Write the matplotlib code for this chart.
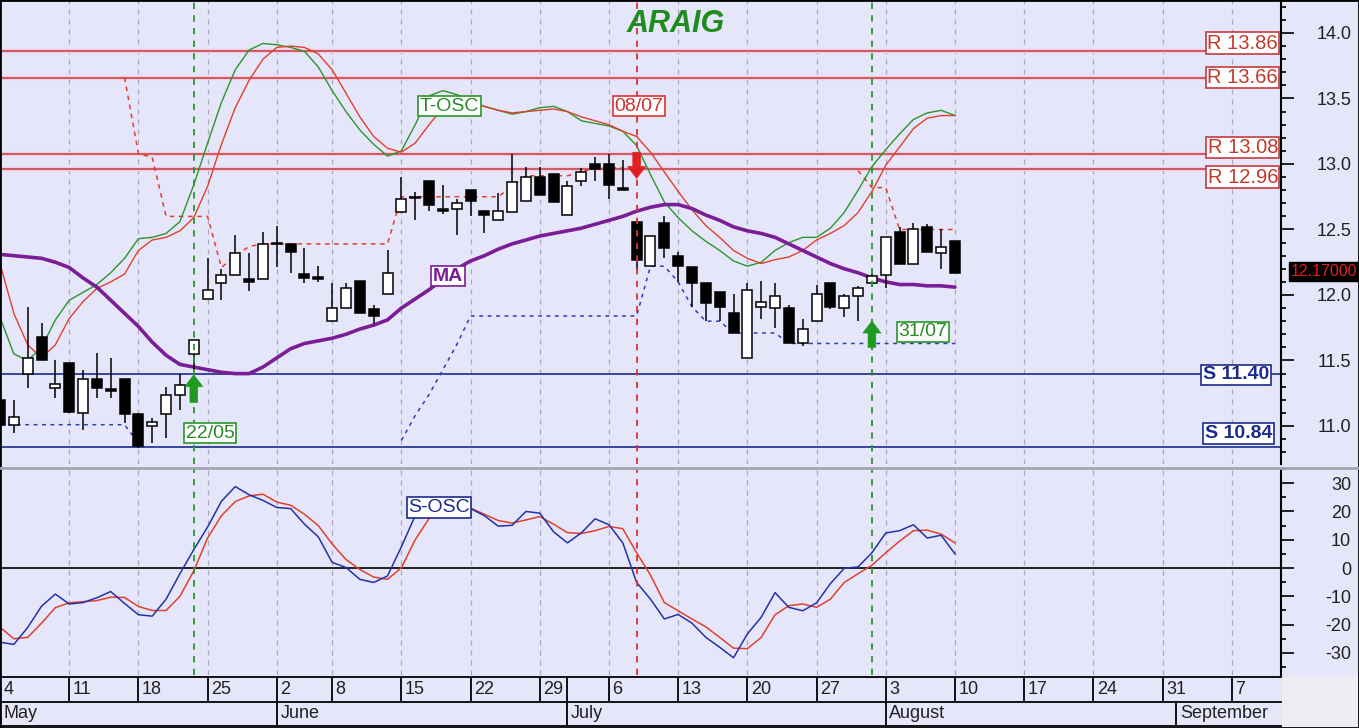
import matplotlib
matplotlib.use('Agg')
import matplotlib.pyplot as plt
import numpy as np
from matplotlib.patches import Rectangle, FancyArrowPatch, ArrowStyle
from matplotlib.ticker import MultipleLocator, FuncFormatter
from matplotlib.lines import Line2D

plt.rcParams['font.family'] = ['Liberation Sans', 'DejaVu Sans']

# ---------------- data (trading-day index 0 = 4 May) ----------------
opens = [11.20, 11.01, 11.40, 11.68, 11.29, 11.48, 11.10, 11.36, 11.28, 11.36,
         11.09, 11.00, 11.09, 11.24, 11.55, 11.97, 12.09, 12.15, 12.12, 12.12,
         12.40, 12.39, 12.16, 12.135, 11.80, 11.90, 12.11, 11.89, 12.01, 12.63,
         12.75, 12.87, 12.66, 12.66, 12.80, 12.64, 12.57, 12.63, 12.72, 12.90,
         12.92, 12.61, 12.87, 13.00, 13.00, 12.82, 12.56, 12.22, 12.55, 12.30,
         12.21, 12.09, 12.02, 11.86, 11.52, 11.91, 11.90, 11.90, 11.63, 11.80,
         12.09, 11.90, 11.99, 12.095, 12.15, 12.48, 12.24, 12.52, 12.32, 12.41]
highs = [11.22, 11.20, 11.91, 11.79, 11.50, 11.48, 11.43, 11.56, 11.52, 11.36,
         11.10, 11.06, 11.30, 11.40, 11.66, 12.28, 12.20, 12.46, 12.32, 12.48,
         12.53, 12.39, 12.36, 12.22, 12.09, 12.09, 12.11, 11.92, 12.34, 12.90,
         12.79, 12.87, 12.84, 12.73, 12.80, 12.64, 12.78, 13.08, 12.98, 12.98,
         12.92, 12.87, 12.97, 13.05, 13.08, 13.03, 12.58, 12.45, 12.60, 12.33,
         12.21, 12.09, 12.02, 12.01, 12.09, 12.11, 12.09, 11.92, 11.82, 12.08,
         12.09, 12.01, 12.07, 12.17, 12.44, 12.52, 12.55, 12.54, 12.50, 12.41]
lows = [10.99, 10.95, 11.29, 11.50, 11.21, 11.10, 10.97, 11.21, 11.21, 11.02,
        10.83, 10.87, 10.91, 11.12, 11.43, 11.97, 11.96, 12.15, 12.03, 12.12,
        12.21, 12.17, 12.09, 12.10, 11.80, 11.90, 11.86, 11.78, 12.01, 12.63,
        12.57, 12.64, 12.62, 12.46, 12.60, 12.47, 12.57, 12.63, 12.72, 12.76,
        12.71, 12.61, 12.83, 12.87, 12.73, 12.80, 12.19, 12.22, 12.28, 12.10,
        11.91, 11.80, 11.80, 11.71, 11.52, 11.82, 11.75, 11.63, 11.61, 11.80,
        11.89, 11.83, 11.80, 12.06, 12.05, 12.24, 12.24, 12.33, 12.20, 12.17]
closes = [11.01, 11.07, 11.52, 11.50, 11.32, 11.11, 11.36, 11.29, 11.27, 11.09,
          10.85, 11.03, 11.24, 11.31, 11.66, 12.04, 12.15, 12.32, 12.10, 12.39,
          12.39, 12.33, 12.13, 12.12, 11.90, 12.05, 11.86, 11.84, 12.17, 12.73,
          12.74, 12.69, 12.64, 12.70, 12.72, 12.61, 12.64, 12.86, 12.90, 12.76,
          12.71, 12.83, 12.94, 12.96, 12.84, 12.80, 12.27, 12.45, 12.36, 12.22,
          12.09, 11.94, 11.91, 11.71, 12.04, 11.95, 11.99, 11.63, 11.74, 12.01,
          11.91, 11.99, 12.05, 12.145, 12.44, 12.24, 12.50, 12.33, 12.37, 12.17]

ma = [12.31, 12.30, 12.29, 12.28, 12.25, 12.21, 12.13, 12.06, 11.96, 11.86,
      11.76, 11.64, 11.54, 11.47, 11.45, 11.43, 11.41, 11.40, 11.40, 11.45,
      11.52, 11.59, 11.63, 11.65, 11.67, 11.70, 11.74, 11.77, 11.81, 11.90,
      11.97, 12.04, 12.12, 12.20, 12.26, 12.30, 12.35, 12.39, 12.42, 12.45,
      12.47, 12.49, 12.51, 12.54, 12.57, 12.60, 12.64, 12.67, 12.69, 12.69,
      12.66, 12.61, 12.57, 12.52, 12.49, 12.47, 12.44, 12.39, 12.34, 12.29,
      12.24, 12.20, 12.17, 12.13, 12.10, 12.08, 12.08, 12.07, 12.07, 12.06]

tosc_fast = [11.83, 11.55, 11.50, 11.60, 11.81, 11.96, 12.02, 12.08, 12.17, 12.28,
             12.43, 12.44, 12.47, 12.56, 12.84, 13.16, 13.47, 13.72, 13.87, 13.92,
             13.91, 13.89, 13.86, 13.74, 13.56, 13.40, 13.26, 13.15, 13.06, 13.10,
             13.30, 13.52, 13.56, 13.53, 13.48, 13.44, 13.41, 13.38, 13.40, 13.43,
             13.44, 13.40, 13.33, 13.31, 13.29, 13.25, 13.14, 12.92, 12.71, 12.59,
             12.49, 12.41, 12.34, 12.26, 12.22, 12.25, 12.34, 12.40, 12.44, 12.44,
             12.51, 12.63, 12.80, 12.98, 13.11, 13.23, 13.34, 13.39, 13.41, 13.37]
tosc_slow = [12.24, 11.86, 11.62, 11.52, 11.62, 11.82, 11.95, 12.05, 12.10, 12.16,
             12.34, 12.42, 12.44, 12.49, 12.59, 12.83, 13.15, 13.43, 13.64, 13.80,
             13.89, 13.90, 13.89, 13.84, 13.72, 13.54, 13.36, 13.21, 13.12, 13.09,
             13.16, 13.30, 13.43, 13.49, 13.47, 13.44, 13.41, 13.39, 13.40, 13.41,
             13.42, 13.40, 13.36, 13.33, 13.30, 13.25, 13.21, 13.09, 12.94, 12.79,
             12.65, 12.53, 12.44, 12.34, 12.28, 12.24, 12.27, 12.29, 12.34, 12.42,
             12.47, 12.53, 12.63, 12.79, 12.99, 13.13, 13.27, 13.35, 13.37, 13.37]

nan = np.nan
stop_high = [nan] * 9 + [13.66, 13.08, 13.05, 12.60, 12.60, 12.60, 12.60, 12.21, 12.30, 12.37] \
    + [12.39] * 10 + [12.75] * 8 + [12.83, 12.91, 12.91, 12.91, 12.91, 12.94, 12.97, 12.97, 12.97] \
    + [nan] * 16 + [12.95, 12.82, 12.82, 12.50, 12.50, 12.50, 12.50, 12.50]
stop_low = [11.01] * 10 + [10.87] + [nan] * 18 + [10.89, 11.08, 11.24, 11.43, 11.62] \
    + [11.84] * 13 + [12.22, 12.22, 12.10, 11.91, 11.80, 11.80, 11.71, 11.71, 11.71, 11.71] \
    + [11.63] * 13

sosc_fast = [-26.2, -27.0, -21.0, -13.5, -9.2, -12.7, -12.2, -10.5, -8.3, -12.5,
             -16.5, -17.0, -11.0, -2.0, 6.5, 14.5, 23.6, 28.8, 25.9, 23.9,
             21.4, 21.0, 15.5, 11.0, 2.0, 0.2, -4.0, -5.1, -2.8, 7.5,
             18.5, 21.0, 21.5, 21.5, 21.0, 18.5, 14.8, 15.1, 20.0, 19.4,
             12.8, 8.9, 12.4, 17.4, 15.3, 8.9, -5.1, -11.0, -18.0, -16.4,
             -19.5, -24.5, -28.0, -31.7, -23.3, -17.4, -8.7, -13.9, -15.1, -12.3,
             -5.5, -0.1, 0.4, 5.4, 12.4, 13.2, 15.3, 10.6, 11.6, 5.0]
sosc_slow = [-20.9, -25.0, -24.5, -19.5, -14.0, -12.3, -11.9, -11.5, -10.3, -10.4,
             -13.6, -15.0, -15.0, -10.0, -1.0, 10.6, 18.5, 23.5, 25.5, 26.1,
             23.3, 22.2, 19.0, 15.0, 8.5, 3.0, -0.5, -3.2, -4.0, 0.1,
             10.0, 17.5, 21.0, 21.5, 21.2, 19.0, 16.8, 15.9, 17.0, 18.2,
             15.5, 12.5, 12.2, 13.2, 14.7, 13.9, 5.4, -2.5, -12.2, -15.1,
             -18.0, -20.8, -24.5, -28.3, -28.5, -24.5, -16.5, -13.3, -12.7, -13.9,
             -11.0, -5.1, -2.0, 1.0, 5.4, 9.5, 13.2, 13.4, 12.0, 8.9]

resistance = [13.86, 13.66, 13.08, 12.96]
support = [11.40, 10.84]

week_idx = [0, 5, 10, 15, 20, 24, 29, 34, 39, 44, 49, 54, 59, 64, 69, 74, 79, 84, 89]
week_labels = ['4', '11', '18', '25', '2', '8', '15', '22', '29', '6', '13', '20',
               '27', '3', '10', '17', '24', '31', '7']
extra_sep = [41]
month_idx = [0, 20, 41, 64, 85]
month_labels = ['May', 'June', 'July', 'August', 'September']

buy_idx = [14, 63]
buy_labels = ['22/05', '31/07']
sell_idx = [46]
sell_labels = ['08/07']

# ---------------- styling ----------------
W, H = 1359, 728
BG = '#e6e6fa'
GREEN = '#2a962a'
RED = '#e0402c'
BLUE = '#2233aa'
PURPLE = '#7a1e96'
NAVY = '#1c2a8c'
RCORE = '#c23a3e'
RGLOW = '#f2cde2'
RTEXT = '#c0392b'

def fx(px):
    return px / W

def fy(py):
    return 1 - py / H

PXD = 13.84
XMAX = 1281 / PXD
idx = np.arange(len(closes))

fig = plt.figure(figsize=(W / 100, H / 100), dpi=100, facecolor=BG)
ax = fig.add_axes([0, fy(464), fx(1281), 464 / H])
axo = fig.add_axes([0, fy(675), fx(1281), (675 - 469) / H])
axd = fig.add_axes([0, fy(726), fx(1281), (726 - 677) / H])

ax.set_xlim(0, XMAX)
axo.set_xlim(0, XMAX)
axd.set_xlim(0, XMAX)
ax.set_ylim(14.2519 - 464 / 131, 14.2519)
axo.set_ylim(-37.8, 35.0)

for a in (ax, axo):
    a.set_facecolor(BG)
    for s in ['left', 'top', 'bottom']:
        a.spines[s].set_visible(False)
    a.spines['right'].set_linewidth(1.5)
    a.yaxis.tick_right()
    a.tick_params(axis='x', which='both', bottom=False, labelbottom=False)
    a.tick_params(axis='y', which='major', length=9.5, width=1.2, direction='out',
                  labelsize=13, pad=41, color='black', labelcolor='#202020')
    a.tick_params(axis='y', which='minor', length=3.8, width=1.2, direction='out',
                  color='black')
    for w in week_idx[1:]:
        a.axvline(w, color='#a8a8b8', lw=0.9, dashes=(4, 4), zorder=1)

ax.yaxis.set_major_locator(MultipleLocator(0.5))
ax.yaxis.set_minor_locator(MultipleLocator(0.1))
ax.yaxis.set_major_formatter(FuncFormatter(lambda v, p: '%.1f' % v))
axo.yaxis.set_major_locator(MultipleLocator(10))
axo.yaxis.set_minor_locator(MultipleLocator(5))
axo.yaxis.set_major_formatter(FuncFormatter(lambda v, p: '%d' % round(v)))
for a in (ax, axo):
    for t in a.yaxis.get_major_ticks():
        t.label2.set_horizontalalignment('right')

# resistance / support lines
for lvl in resistance:
    ax.axhline(lvl, color=RGLOW, lw=3.2, zorder=1.5)
    ax.axhline(lvl, color=RCORE, lw=1.1, zorder=1.6)
for lvl in support:
    ax.axhline(lvl, color=NAVY, lw=1.2, zorder=1.6)

# stop lines
ax.plot(idx, stop_high, color=RED, lw=1.1, dashes=(3, 3), zorder=2)
ax.plot(idx, stop_low, color='#2b3cb8', lw=1.1, dashes=(2.5, 3), zorder=2)

# trend oscillator and moving average
ax.plot(idx, tosc_fast, color=GREEN, lw=1.0, zorder=3)
ax.plot(idx, tosc_slow, color=RED, lw=1.0, zorder=3)
ax.plot(idx, ma, color=PURPLE, lw=2.6, zorder=4, solid_capstyle='round')

# candles
o = np.array(opens); c = np.array(closes)
ax.vlines(idx, lows, highs, color='black', lw=1.1, zorder=5)
up = c >= o
bottoms = np.minimum(o, c)
heights = np.maximum(np.abs(c - o), 0.008)
ax.bar(idx[up], heights[up], bottom=bottoms[up], width=0.72, color='white',
       edgecolor='black', linewidth=1.1, zorder=6)
ax.bar(idx[~up], heights[~up], bottom=bottoms[~up], width=0.72, color='black',
       edgecolor='black', linewidth=1.1, zorder=6)

# signal lines
for b in buy_idx:
    ax.axvline(b, color=GREEN, lw=1.3, dashes=(3.5, 3.5), zorder=7)
    axo.axvline(b, color=GREEN, lw=1.3, dashes=(3.5, 3.5), zorder=7)
for s in sell_idx:
    ax.axvline(s, color='#e03030', lw=1.3, dashes=(3.5, 3.5), zorder=7)
    axo.axvline(s, color='#e03030', lw=1.3, dashes=(3.5, 3.5), zorder=7)

def arrow(x, y0, y1, color):
    p = FancyArrowPatch((x, y0), (x, y1),
                        arrowstyle=ArrowStyle.Simple(head_length=8.5, head_width=13, tail_width=5.5),
                        mutation_scale=1, shrinkA=0, shrinkB=0, fc=color, ec=color,
                        lw=0.5, zorder=8)
    ax.add_patch(p)

arrow(buy_idx[0], 11.18, 11.39, '#1e9a1e')
arrow(buy_idx[1], 11.60, 11.80, '#1e9a1e')
arrow(sell_idx[0], 13.09, 12.89, '#e02020')

def boxlabel(a, x, y, s, tc, ec, weight='normal', size=14):
    a.text(x, y, s, color=tc, fontsize=size, ha='center', va='center', weight=weight,
           zorder=9, bbox=dict(boxstyle='square,pad=0.08', fc='white', ec=ec, lw=1.2))

boxlabel(ax, buy_idx[0] + 1.17, 10.946, buy_labels[0], '#2a8a2a', GREEN)
boxlabel(ax, buy_idx[1] + 3.7, 11.72, buy_labels[1], '#2a8a2a', GREEN)
boxlabel(ax, sell_idx[0] + 0.17, 13.44, sell_labels[0], '#d03030', '#e03030')
boxlabel(ax, 32.48, 13.44, 'T-OSC', '#2a8a2a', GREEN)
boxlabel(ax, 32.37, 12.145, 'MA', PURPLE, PURPLE, weight='bold')
boxlabel(axo, 31.72, 21.4, 'S-OSC', NAVY, NAVY)

# level labels at the right
r_offsets = [6.0, 0.0, 4.3, -5.6]
for lvl, off in zip(resistance, r_offsets):
    ax.annotate('R %.2f' % lvl, xy=(1278 / 1281, lvl), xycoords=('axes fraction', 'data'),
                xytext=(0, off), textcoords='offset points', ha='right', va='center',
                fontsize=14.5, color=RTEXT, zorder=9,
                bbox=dict(boxstyle='square,pad=0.06', fc='white', ec=RCORE, lw=1.2))
s_pos = [(1269 / 1281, -1.0), (1272 / 1281, 9.7)]
for lvl, (xf, off) in zip(support, s_pos):
    ax.annotate('S %.2f' % lvl, xy=(xf, lvl), xycoords=('axes fraction', 'data'),
                xytext=(0, off), textcoords='offset points', ha='right', va='center',
                fontsize=14, color=NAVY, weight='bold', zorder=9,
                bbox=dict(boxstyle='square,pad=0.08', fc='white', ec=NAVY, lw=1.2))

# last price tag
ax.annotate('%.5f' % closes[-1], xy=(1291 / 1281, closes[-1]), xycoords=('axes fraction', 'data'),
            xytext=(0, 1), textcoords='offset points', ha='left', va='center',
            fontsize=11.5, color='#e02020', annotation_clip=False,
            bbox=dict(boxstyle='square,pad=0.12', fc='black', ec='black'))

# stochastic oscillator
axo.axhline(0, color='black', lw=1.2, zorder=2)
axo.plot(idx, sosc_fast, color=BLUE, lw=1.1, zorder=4)
axo.plot(idx, sosc_slow, color=RED, lw=1.1, zorder=3)

# date axis
axd.set_ylim(0, 2)
axd.axis('off')
for yy in (2, 1, 0):
    axd.axhline(yy, color='black', lw=1.3, clip_on=False)
for w in week_idx + extra_sep:
    axd.vlines(w, 1, 2, color='black', lw=1.3, clip_on=False)
for m in month_idx:
    axd.vlines(m, 0, 1, color='black', lw=1.3, clip_on=False)
for w, lab in zip(week_idx, week_labels):
    axd.annotate(lab, xy=(w, 1.5), xytext=(2.5, 0), textcoords='offset points',
                 ha='left', va='center', fontsize=13, color='#202020')
for m, lab in zip(month_idx, month_labels):
    axd.annotate(lab, xy=(m, 0.5), xytext=(2.5, 0), textcoords='offset points',
                 ha='left', va='center', fontsize=13, color='#202020')

# figure decorations
fig.add_artist(Rectangle((fx(1282), 0), 1 - fx(1282), fy(677), transform=fig.transFigure,
                         fc='#eeeef2', ec='none', zorder=0))
fig.add_artist(Line2D([0, 1], [fy(467.5), fy(467.5)], transform=fig.transFigure,
                      color='#a4a4ae', lw=2.0))
fig.add_artist(Rectangle((0, 0), 1, 1, transform=fig.transFigure, fill=False,
                         ec='black', lw=2.0))
fig.text(fx(676), fy(24), 'ARAIG', ha='center', va='center', fontsize=22,
         weight='bold', style='italic', color='#1e8c1e')

fig.savefig('out.png', dpi=100, facecolor=BG)
